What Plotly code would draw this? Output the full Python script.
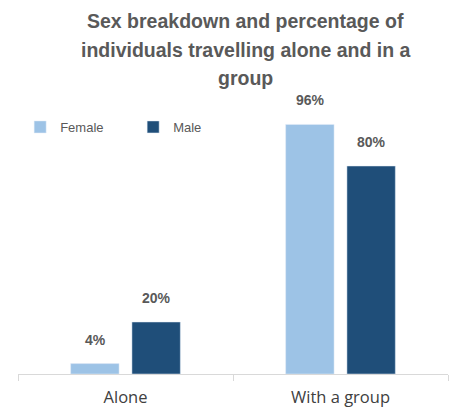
import plotly.graph_objects as go

categories = ["Alone", "With a group"]
female = [4, 96]
male = [20, 80]
female_labels = ["4%", "96%"]
male_labels = ["20%", "80%"]
title_lines = ["Sex breakdown and percentage of", "individuals travelling alone and in a", "group"]

FEMALE_COLOR = "#9DC3E6"
MALE_COLOR = "#1F4E79"
LABEL_FONT = dict(family="Liberation Sans, Arial", size=14, color="#595959", weight="bold")
TITLE_FONT = dict(family="Liberation Sans, Arial", size=19.5, color="#595959", weight="bold")

fig = go.Figure()
fig.add_trace(go.Bar(name="Female", x=categories, y=female, marker_color=FEMALE_COLOR))
fig.add_trace(go.Bar(name="Male", x=categories, y=male, marker_color=MALE_COLOR))

# value labels sit a little higher above each bar than plotly's default outside text
BAR_OFFSET = 30.5  # half of one bar slot, in px
for i, cat in enumerate(categories):
    for vals, labels, shift in ((female, female_labels, -BAR_OFFSET), (male, male_labels, BAR_OFFSET)):
        fig.add_annotation(
            x=cat, y=vals[i], text=labels[i], showarrow=False,
            xshift=shift, yanchor="bottom", yshift=14, font=LABEL_FONT,
        )

# chart title, one line per annotation for a looser line spacing
for line, ypos in zip(title_lines, (1.357, 1.246, 1.138)):
    fig.add_annotation(
        text=line, xref="paper", yref="paper", x=0.530, y=ypos,
        xanchor="center", yanchor="middle", showarrow=False, font=TITLE_FONT,
    )

fig.update_layout(
    width=454, height=408,
    margin=dict(l=18, r=6, t=114, b=34),
    paper_bgcolor="white", plot_bgcolor="white",
    barmode="group", bargap=0.43, bargroupgap=0.21,
    legend=dict(
        orientation="h", x=0.005, xanchor="left", y=0.95, yanchor="middle",
        font=dict(family="Liberation Sans, Arial", size=13, color="#595959"),
        bgcolor="rgba(0,0,0,0)",
        entrywidth=68, itemwidth=30, traceorder="normal",
    ),
    showlegend=True,
    xaxis=dict(
        showline=True, linecolor="#d9d9d9", linewidth=1,
        ticks="outside", tickson="boundaries", ticklen=6, tickcolor="#d9d9d9",
        tickfont=dict(family="Open Sans, Liberation Sans, Arial", size=16.5, color="#404040"),
        ticklabelstandoff=8, automargin=False,
        showgrid=False,
    ),
    yaxis=dict(range=[0, 100], visible=False, showgrid=False, automargin=False),
)

fig.write_html("out.html")
